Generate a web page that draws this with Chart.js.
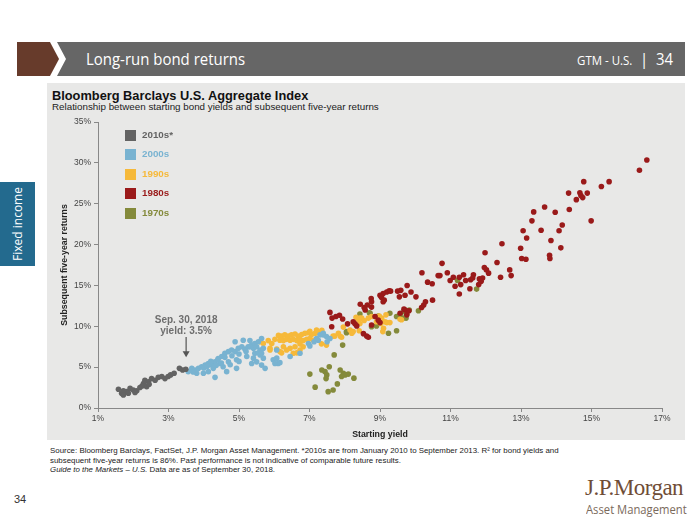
<!DOCTYPE html>
<html>
<head>
<meta charset="utf-8">
<script src="https://cdn.jsdelivr.net/npm/chart.js@4.4.0/dist/chart.umd.min.js"></script>
<style>
  body { margin: 0; background: #fff; font-family: "Liberation Sans", Arial, sans-serif; }
  #page { position: relative; width: 700px; height: 525px; overflow: hidden; }
  .abs { position: absolute; }
  #brown { left: 17px; top: 42px; width: 42px; height: 34px; background: #673b2b;
           clip-path: polygon(0 0, 33px 0, 42px 50%, 33px 100%, 0 100%); }
  #bar { left: 57px; top: 42px; width: 628px; height: 34px; background: #666;
         clip-path: polygon(0 0, 100% 0, 100% 100%, 0 100%, 9px 50%); }
  #bar .t { position: absolute; left: 29px; top: 5px; color: #fff; font-size: 17px;
            font-family: "Open Sans", sans-serif; transform: scaleX(0.88); transform-origin: left center; white-space: nowrap; }
  #bar .r { position: absolute; right: 12px; top: 5px; color: #fff; font-size: 17px; white-space: nowrap;
            font-family: "Open Sans", sans-serif; transform: scaleX(0.88); transform-origin: right center; }
  #bar .r small { font-size: 13px; }
  #panel { left: 47px; top: 83px; width: 638px; height: 357px; background: #e8e8e7; }
  #tab { left: 0; top: 182px; width: 35px; height: 84px; background: #236a8e; }
  #tab span { position: absolute; left: 17px; top: 42px; transform: translate(-50%, -50%) rotate(-90deg);
              color: #fff; font-size: 12px; white-space: nowrap; font-family: "Open Sans", sans-serif; }
  #title { left: 52px; top: 88px; font-size: 12.8px; font-weight: bold; color: #111; }
  #sub { left: 52px; top: 101px; font-size: 9.8px; color: #222; }
  #chart { left: 47px; top: 112px; }
  .lg { position: absolute; left: 125px; font-size: 9.8px; font-weight: bold; }
  .lg i { position: absolute; left: 0; top: 0; width: 11px; height: 11px; }
  .lg b { position: absolute; left: 17px; top: -1px; white-space: nowrap; }
  #foot { left: 50px; top: 446px; font-size: 7.9px; line-height: 9.6px; color: #222; white-space: nowrap; }
  #pg { left: 14px; top: 493px; font-size: 11px; color: #333; }
  #jpm { left: 585px; top: 475px; font-family: "Liberation Serif", serif; font-size: 23px; color: #6f4d36; letter-spacing: -0.5px; }
  #am { left: 586px; top: 501px; font-size: 12.5px; color: #7a6a5c; font-family: "Open Sans", sans-serif;
        transform: scaleX(0.9); transform-origin: left center; white-space: nowrap; }
</style>
</head>
<body>
<div id="page">
  <div id="brown" class="abs"></div>
  <div id="bar" class="abs"><span class="t">Long-run bond returns</span><span class="r"><small>GTM - U.S.</small> &nbsp;|&nbsp; 34</span></div>
  <div id="panel" class="abs"></div>
  <div id="tab" class="abs"><span>Fixed income</span></div>
  <div id="title" class="abs">Bloomberg Barclays U.S. Aggregate Index</div>
  <div id="sub" class="abs">Relationship between starting bond yields and subsequent five-year returns</div>
  <canvas id="chart" class="abs" width="638" height="328"></canvas>
  <div id="legend"></div>
  <div id="foot" class="abs">Source: Bloomberg Barclays, FactSet, J.P. Morgan Asset Management. *2010s are from January 2010 to September 2013. R² for bond yields and<br>subsequent five-year returns is 86%. Past performance is not indicative of comparable future results.<br><i>Guide to the Markets – U.S.</i> Data are as of September 30, 2018.</div>
  <div id="pg" class="abs">34</div>
  <div id="jpm" class="abs">J.P.Morgan</div>
  <div id="am" class="abs">Asset Management</div>
</div>
<script>
// decade labels and colours
const DECADES = ["2010s*", "2000s", "1990s", "1980s", "1970s"];
const COLORS = ["#636363", "#79b3d1", "#f6b93a", "#9a1a1a", "#848a3b"];

// [starting yield %, subsequent 5y return %]
const s2010 = [
  [1.58,2.3],[1.67,1.8],[1.72,2.1],[1.81,2.0],[1.91,2.4],[2.0,2.2],[2.10,2.1],[2.19,2.5],
  [2.29,3.0],[2.33,3.4],[2.43,3.2],[2.52,3.6],[2.62,3.4],[2.71,3.75],[2.81,3.85],[2.9,3.6],
  [2.99,3.85],[3.06,4.05],[3.16,4.25],[3.31,4.85],[3.40,4.65],[3.49,4.75],[2.38,2.6],[2.05,1.9],
  [1.72,1.6],[1.86,1.8],[2.25,2.7],[2.45,2.9]
];
const s2000 = [
  [3.56,4.45],[3.66,4.85],[3.75,4.65],[3.85,4.85],[3.94,5.05],[4.04,5.25],[4.13,5.45],[4.23,5.25],
  [4.32,5.65],[4.41,6.05],[4.51,6.3],[4.60,6.7],[4.70,6.9],[4.79,7.1],[4.89,6.9],[4.98,7.3],
  [5.08,7.5],[5.17,7.2],[5.26,7.5],[5.36,7.7],[5.45,7.9],[5.55,8.1],[5.64,8.5],[4.89,8.1],
  [5.12,8.3],[5.31,8.25],[3.80,4.25],[3.99,4.25],[4.27,4.85],[4.46,5.45],[4.55,5.05],[4.70,5.65],
  [4.93,5.9],[5.22,6.3],[5.41,6.1],[5.6,6.5],[5.69,6.1],[4.93,4.85],[4.65,4.45],[4.32,3.75],
  [4.13,4.45],[6.07,7.1],[6.16,5.55],[6.45,6.3],[6.73,6.7],[7.01,7.6],[7.25,8.3],[7.39,8.95],
  [7.50,8.1],[5.31,7.5],[5.41,7.3],[5.5,7.5],[5.6,7.1],[5.69,7.3],[5.45,6.7],[5.55,6.75],
  [5.64,6.7],[5.36,5.45],[5.5,5.65],[5.64,5.25],[5.74,4.85],[5.97,5.9],[6.07,6.1],[6.11,5.45],
  [6.02,5.45],[6.97,7.9],[7.13,8.1],[7.2,8.5],[7.3,8.95],[7.39,9.15],[7.48,8.75],[7.58,8.5],
  [4.2,5.7],[4.4,5.9],[4.6,6.2],[4.8,6.4],[5.0,6.6],[5.2,6.9],[4.5,5.5],[4.0,4.9],[4.75,5.3],
  [5.0,5.7],[3.7,4.4],[4.1,5.1],[4.35,5.2]
];
const s1990 = [
  [5.6,8.1],[5.69,7.9],[5.83,8.25],[5.93,7.9],[5.88,7.3],[6.02,8.4],[6.12,8.9],[6.21,8.8],
  [6.30,8.95],[6.40,8.8],[6.49,8.95],[6.59,9.05],[6.68,8.8],[6.78,9.0],[6.87,9.15],[6.97,9.2],
  [7.06,9.0],[7.16,9.15],[7.25,9.2],[6.16,8.3],[6.26,8.25],[6.35,8.4],[6.45,8.3],[6.54,8.4],
  [6.64,8.25],[6.73,8.4],[6.82,8.25],[6.92,8.4],[7.01,8.5],[7.11,8.3],[6.26,7.5],[6.45,7.3],
  [6.59,7.5],[6.73,7.85],[6.64,6.75],[6.21,6.75],[6.82,7.5],[6.07,7.2],[7.34,7.85],[7.48,7.7],
  [7.82,9.15],[7.88,8.75],[7.72,8.8],[8.15,9.55],[8.24,9.35],[8.2,9.15],[8.32,11.1],[8.43,11.0],
  [8.67,11.0],[8.76,11.2],[8.9,10.55],[9.02,10.35],[9.14,10.55],[9.17,11.4],[9.05,11.0],[9.08,9.35],
  [9.1,9.75],[9.61,10.8],[8.38,10.85],[8.48,11.0],[8.55,10.7],[8.43,10.35],[8.41,9.45],[8.98,11.25],
  [9.19,10.45],[9.28,10.45],[7.96,9.9],[7.67,8.8],[7.91,8.65],[9.57,10.85],[6.16,6.9],[6.35,7.1],
  [6.54,6.7],[6.73,7.1],[5.88,7.1],[7.01,9.4],[7.2,9.55],[7.35,9.5]
];
const s1980 = [
  [16.57,30.35],[16.36,29.1],[14.78,27.7],[15.5,27.7],[15.28,27.1],[14.35,26.3],[14.67,26.35],[14.88,26.3],
  [14.70,26.0],[14.75,25.75],[14.57,25.5],[13.67,24.6],[13.36,24.0],[13.97,23.95],[14.37,24.3],[13.31,22.9],
  [14.99,22.9],[14.17,22.4],[13.57,21.75],[14.08,21.7],[13.06,21.7],[13.16,20.8],[13.85,20.5],[12.46,20.1],
  [12.99,19.55],[14.13,19.6],[13.81,18.7],[13.82,18.3],[13.02,18.3],[13.14,18.2],
  [11.98,19.0],[12.32,17.8],[12.68,16.9],[12.72,16.2],[12.42,16.0],[11.96,17.2],[12.02,16.9],[12.08,16.5],
  [10.76,17.7],[10.91,16.55],[11.08,16.0],[11.25,16.0],[11.37,16.3],[10.99,15.6],[11.43,15.6],[11.57,15.7],
  [11.65,16.3],[11.63,15.9],[11.82,15.8],[11.91,15.9],[11.87,15.5],[11.13,14.9],[11.29,15.1],[11.55,14.6],
  [11.25,13.95],[11.80,15.1],[10.70,16.2],[10.19,16.55],[10.65,16.2],[10.35,15.4],[10.48,15.2],[9.77,15.0],
  [9.50,14.3],[9.59,14.4],[9.88,14.2],[10.02,13.6],[9.55,13.6],[9.71,13.8],[9.26,14.35],[9.19,14.2],
  [9.30,14.3],[9.09,14.0],[9.0,13.8],[9.04,13.55],[9.12,13.2],[8.75,13.4],[8.76,13.0],[9.09,13.0],
  [8.44,12.7],[8.55,12.3],[8.64,12.6],[8.58,12.0],[8.76,12.35],[10.29,13.0],[10.24,12.6],[10.49,13.2],
  [10.18,12.3],[7.58,11.7],[7.64,11.0],[7.75,11.2],[7.85,11.35],[7.94,10.9],[8.08,10.3],[7.63,9.95],
  [8.24,10.55],[8.29,10.3],[8.34,10.05],[8.53,9.1],[8.62,8.8],[8.67,8.65],[8.76,10.15],[9.0,10.45],
  [8.95,10.75],[8.86,11.2],[9.57,11.6],[9.71,12.0],[9.76,11.4],[9.68,12.1],[9.82,11.9]
];
const s1970 = [
  [7.01,4.15],[7.16,2.55],[7.35,4.65],[7.44,4.45],[7.49,4.05],[7.56,5.05],[7.47,3.6],[7.53,2.0],
  [7.67,2.2],[7.79,2.95],[7.87,4.65],[7.96,4.25],[8.01,4.05],[7.91,3.85],[8.1,4.15],[8.26,3.65],
  [7.70,6.5],[7.94,7.7],[8.05,9.2],[8.43,11.5],[8.72,11.6],[8.95,11.25],[9.28,11.6],[9.47,11.2],
  [9.76,11.5],[9.83,12.0],[8.76,9.95],[8.9,10.05],[9.24,9.15],[9.47,9.45],[9.57,11.4],[9.68,11.8],
  [9.74,11.0],[9.66,11.0],[8.70,11.65],[11.2,15.6],[11.74,14.55],[10.09,11.9],[8.05,9.35]
];
const SERIES = [s2010, s2000, s1990, s1980, s1970];

// legend drawn as html, top offsets in page px
const legendEl = document.getElementById("legend");
const LEGEND_TOP = [130, 149, 169, 188, 208];
legendEl.innerHTML = DECADES.map((d, i) =>
  `<div class="lg" style="top:${LEGEND_TOP[i]}px;color:${COLORS[i]}"><i style="background:${COLORS[i]}"></i><b>${d}</b></div>`
).join("");

// "Sep. 30, 2018" callout with an arrow pointing at 3.5% yield
const calloutPlugin = {
  id: "callout",
  afterDatasetsDraw(chart) {
    const { ctx, scales: { x, y } } = chart;
    const px = x.getPixelForValue(3.5);
    ctx.save();
    ctx.fillStyle = "#6e6e6e";
    ctx.strokeStyle = "#555";
    ctx.font = "bold 10px 'Liberation Sans', Arial, sans-serif";
    ctx.textAlign = "center";
    ctx.textBaseline = "middle";
    ctx.fillText("Sep. 30, 2018", px, y.getPixelForValue(10.75));
    ctx.fillText("yield: 3.5%", px, y.getPixelForValue(9.4));
    const y0 = y.getPixelForValue(8.7), y1 = y.getPixelForValue(6.2);
    ctx.lineWidth = 1.2;
    ctx.beginPath();
    ctx.moveTo(px, y0);
    ctx.lineTo(px, y1 - 4);
    ctx.stroke();
    ctx.fillStyle = "#555";
    ctx.beginPath();
    ctx.moveTo(px, y1);
    ctx.lineTo(px - 3.5, y1 - 6);
    ctx.lineTo(px + 3.5, y1 - 6);
    ctx.closePath();
    ctx.fill();
    ctx.restore();
  },
};

const tickFont = { size: 8.5, family: "'Liberation Sans', Arial, sans-serif" };
const titleFont = { size: 8.8, weight: "bold", family: "'Liberation Sans', Arial, sans-serif" };

new Chart(document.getElementById("chart"), {
  type: "scatter",
  data: {
    datasets: SERIES.map((s, i) => ({
      label: DECADES[i],
      data: s.map(([x, y]) => ({ x, y })),
      backgroundColor: COLORS[i],
      borderWidth: 0,
      pointRadius: 2.8,
      pointHoverRadius: 2.8,
      order: i === 3 ? 0 : 1,
    })),
  },
  options: {
    responsive: false,
    animation: false,
    devicePixelRatio: 1,
    layout: { padding: { top: 10, right: 23, left: 0, bottom: 0 } },
    plugins: { legend: { display: false }, tooltip: { enabled: false } },
    scales: {
      x: {
        type: "linear",
        min: 1,
        max: 17,
        ticks: { stepSize: 2, color: "#444", font: tickFont, padding: 2, callback: (v) => v + "%" },
        grid: { drawOnChartArea: false, color: "#888", tickLength: 4 },
        border: { color: "#888" },
        title: { display: true, text: "Starting yield", color: "#222", font: titleFont, padding: 0 },
        afterFit: (s) => { s.height = 32; },
      },
      y: {
        min: 0,
        max: 35,
        ticks: { stepSize: 5, color: "#444", font: tickFont, padding: 3, callback: (v) => v + "%" },
        grid: { drawOnChartArea: false, color: "#888", tickLength: 4 },
        border: { color: "#888" },
        title: { display: true, text: "Subsequent five-year returns", color: "#222", font: titleFont, padding: { top: 12, bottom: 0 } },
        afterFit: (s) => { s.width = 51; },
      },
    },
  },
  plugins: [calloutPlugin],
});
</script>
</body>
</html>
